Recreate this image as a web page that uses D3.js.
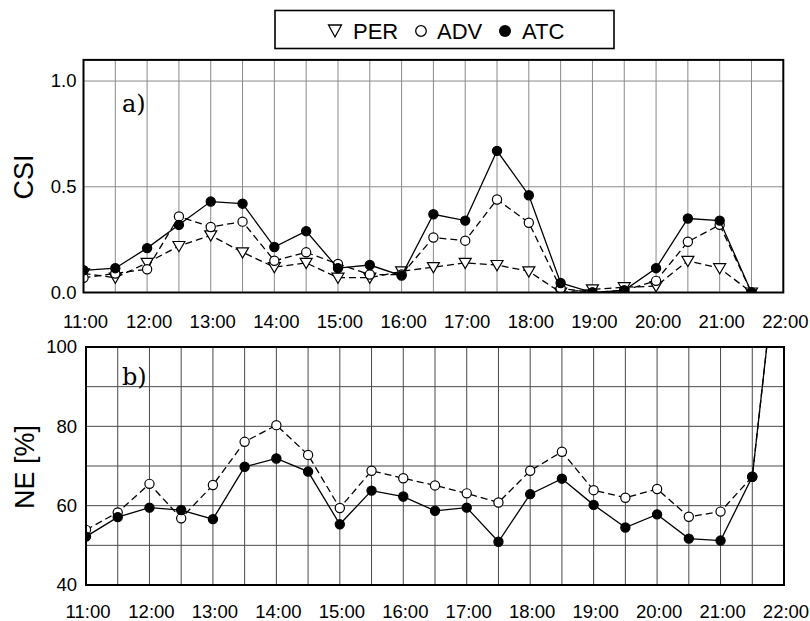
<!DOCTYPE html>
<html>
<head>
<meta charset="utf-8">
<script src="https://cdn.jsdelivr.net/npm/d3@7"></script>
<style>
  html, body { margin: 0; padding: 0; background: #fff; }
  svg { display: block; }
  text { font-family: "Liberation Sans", Arial, Helvetica, sans-serif; fill: #000; }
</style>
</head>
<body>
<svg id="chart" width="810" height="621"></svg>
<script>
// ---------- DATA ----------
const times = ["11:00","11:30","12:00","12:30","13:00","13:30","14:00","14:30","15:00","15:30",
               "16:00","16:30","17:00","17:30","18:00","18:30","19:00","19:30","20:00","20:30",
               "21:00","21:30"];
const xTickLabels = ["11:00","12:00","13:00","14:00","15:00","16:00","17:00","18:00","19:00","20:00","21:00","22:00"];

// Panel a) CSI
const csiPER = [0.09,0.07,0.14,0.22,0.27,0.19,0.12,0.14,0.07,0.07,0.10,0.12,0.14,0.13,0.10,0.00,0.015,0.025,0.03,0.15,0.115,0.00];
const csiADV = [0.07,0.09,0.11,0.36,0.31,0.335,0.15,0.19,0.135,0.085,0.085,0.26,0.245,0.44,0.33,0.02,0.00,0.01,0.055,0.24,0.32,0.00];
const csiATC = [0.105,0.115,0.21,0.32,0.43,0.42,0.215,0.29,0.115,0.13,0.08,0.37,0.34,0.67,0.46,0.045,0.00,0.01,0.115,0.35,0.34,0.00];
const csiTicks = [0.0, 0.5, 1.0];
const csiGrid = [0.5, 1.0];

// Panel b) NE [%]  (last value at 22:00 runs off the top of the panel)
const neTimes = times.concat(["22:00"]);
const neADV = [53.9,58.3,65.5,56.8,65.2,76.1,80.3,72.8,59.4,68.8,66.9,65.1,63.1,60.8,68.8,73.6,63.9,62.0,64.2,57.2,58.5,67.3,139];
const neATC = [52.2,57.1,59.5,58.9,56.6,69.8,71.9,68.6,55.3,63.8,62.3,58.7,59.5,50.9,62.9,66.8,60.2,54.5,57.8,51.7,51.2,67.3,139];
const neTicks = [40, 60, 80, 100];
const neGrid = [50, 60, 70, 80, 90];

const legendItems = ["PER", "ADV", "ATC"];

// ---------- HELPERS ----------
const toHour = s => { const [h, m] = s.split(":").map(Number); return h + m / 60; };
const halfHours = d3.range(11.5, 22, 0.5);

const svg = d3.select("#chart");
const font = '"Liberation Sans", Arial, Helvetica, sans-serif';

function panel(cfg) {
  const { x, y, yTicks, yGrid, gridColor, tickFmt, tickPad, xLabelPad, id } = cfg;
  const [x0, x1] = x.range();
  const [yb, yt] = y.range();
  const g = svg.append("g");

  svg.append("clipPath").attr("id", id)
    .append("rect").attr("x", x0).attr("y", yt).attr("width", x1 - x0).attr("height", yb - yt);

  // grid
  g.selectAll(".vg").data(halfHours).join("line")
    .attr("x1", d => x(d)).attr("x2", d => x(d)).attr("y1", yt).attr("y2", yb)
    .attr("stroke", gridColor).attr("stroke-width", 1);
  g.selectAll(".hg").data(yGrid).join("line")
    .attr("x1", x0).attr("x2", x1).attr("y1", d => y(d)).attr("y2", d => y(d))
    .attr("stroke", gridColor).attr("stroke-width", 1);

  // y axis labels
  const ya = svg.append("g").attr("transform", `translate(${x0},0)`)
    .call(d3.axisLeft(y).tickValues(yTicks).tickSize(0).tickPadding(tickPad).tickFormat(tickFmt));
  ya.select(".domain").remove();
  ya.selectAll("text").style("font-family", font).style("font-size", "18.5px").attr("fill", "#000");

  // x axis labels
  const xa = svg.append("g").attr("transform", `translate(0,${yb})`)
    .call(d3.axisBottom(x).tickValues(xTickLabels.map(toHour)).tickSize(0).tickPadding(xLabelPad)
      .tickFormat((d, i) => xTickLabels[i]));
  xa.select(".domain").remove();
  xa.selectAll("text").style("font-family", font).style("font-size", "18.5px").attr("fill", "#000")
    .attr("dx", "1.5");

  return g;
}

function series(g, clipId, x, y, tArr, vals, opts) {
  const pts = tArr.map((t, i) => [toHour(t), vals[i]]);
  const line = d3.line().x(d => x(d[0])).y(d => y(d[1]));
  g.append("path").datum(pts)
    .attr("clip-path", `url(#${clipId})`)
    .attr("d", line).attr("fill", "none").attr("stroke", "#000")
    .attr("stroke-width", 1.3)
    .attr("stroke-dasharray", opts.dash || null);
  const mg = g.append("g").attr("clip-path", `url(#${clipId})`);
  const mpts = opts.markerCount ? pts.slice(0, opts.markerCount) : pts;
  if (opts.marker === "tri") {
    const s = 6;
    mg.selectAll("path").data(mpts).join("path")
      .attr("d", d => { const cx = x(d[0]), cy = y(d[1]);
        return `M${cx - s},${cy - s * 0.75}L${cx + s},${cy - s * 0.75}L${cx},${cy + s * 0.95}Z`; })
      .attr("fill", "#fff").attr("stroke", "#000").attr("stroke-width", 1.2);
  } else {
    mg.selectAll("circle").data(mpts).join("circle")
      .attr("cx", d => x(d[0])).attr("cy", d => y(d[1])).attr("r", 4.6)
      .attr("fill", opts.marker === "filled" ? "#000" : "#fff")
      .attr("stroke", "#000").attr("stroke-width", 1.2);
  }
}

function frame(x, y) {
  const [x0, x1] = x.range();
  const [yb, yt] = y.range();
  svg.append("rect").attr("x", x0).attr("y", yt).attr("width", x1 - x0).attr("height", yb - yt)
    .attr("fill", "none").attr("stroke", "#000").attr("stroke-width", 2);
}

// ---------- PANEL a ----------
const xA = d3.scaleLinear().domain([11, 22]).range([83.5, 783.3]);
const yA = d3.scaleLinear().domain([0, 1.1]).range([292.5, 59.9]);
const gA = panel({ x: xA, y: yA, yTicks: csiTicks, yGrid: csiGrid, gridColor: "#8a8a8a",
  tickFmt: d3.format(".1f"), tickPad: 7, xLabelPad: 22, id: "clipA" });
series(gA, "clipA", xA, yA, times, csiPER, { marker: "tri", dash: "7,4" });
series(gA, "clipA", xA, yA, times, csiADV, { marker: "open", dash: "7,4" });
series(gA, "clipA", xA, yA, times, csiATC, { marker: "filled" });
frame(xA, yA);

// ---------- PANEL b ----------
const xB = d3.scaleLinear().domain([11, 22]).range([86, 784]);
const yB = d3.scaleLinear().domain([40, 100]).range([585, 347]);
const gB = panel({ x: xB, y: yB, yTicks: neTicks, yGrid: neGrid, gridColor: "#4a4a4a",
  tickFmt: d3.format("d"), tickPad: 9, xLabelPad: 20, id: "clipB" });
series(gB, "clipB", xB, yB, neTimes, neADV, { marker: "open", dash: "7,4", markerCount: times.length });
series(gB, "clipB", xB, yB, neTimes, neATC, { marker: "filled", markerCount: times.length });
frame(xB, yB);

// panel letters
svg.append("text").attr("x", 122).attr("y", 112).text("a)")
  .style("font-family", '"DejaVu Serif", "Liberation Serif", serif').style("font-size", "24px");
svg.append("text").attr("x", 122).attr("y", 385).text("b)")
  .style("font-family", '"DejaVu Serif", "Liberation Serif", serif').style("font-size", "24px");

// axis titles
svg.append("text").attr("transform", "translate(33,177) rotate(-90)").attr("text-anchor", "middle")
  .style("font-size", "27px").text("CSI");
svg.append("text").attr("transform", "translate(34,467) rotate(-90)").attr("text-anchor", "middle")
  .style("font-size", "27px").text("NE [%]");

// ---------- LEGEND ----------
const lg = svg.append("g");
lg.append("rect").attr("x", 275).attr("y", 10.5).attr("width", 339).attr("height", 38)
  .attr("fill", "#fff").attr("stroke", "#000").attr("stroke-width", 1.6);
const lx = [353, 437, 522];
const sx = [335, 421, 505];
lg.append("path").attr("d", `M${sx[0] - 6.5},${25}L${sx[0] + 6.5},${25}L${sx[0]},${37}Z`)
  .attr("fill", "none").attr("stroke", "#000").attr("stroke-width", 1.3);
lg.append("circle").attr("cx", sx[1]).attr("cy", 31).attr("r", 5.3)
  .attr("fill", "none").attr("stroke", "#000").attr("stroke-width", 1.3);
lg.append("circle").attr("cx", sx[2]).attr("cy", 31).attr("r", 6).attr("fill", "#000");
lg.selectAll("text.l").data(legendItems).join("text")
  .attr("x", (d, i) => lx[i]).attr("y", 38.5).style("font-size", "22px").text(d => d);
</script>
</body>
</html>
